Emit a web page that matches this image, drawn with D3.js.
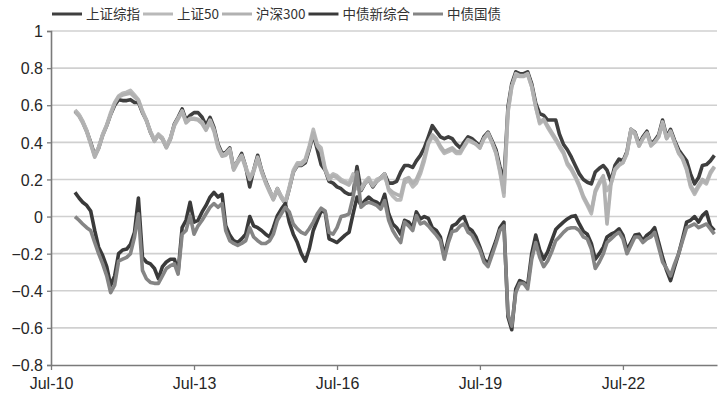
<!DOCTYPE html>
<html><head><meta charset="utf-8">
<script src="https://cdn.jsdelivr.net/npm/d3@7/dist/d3.min.js"></script>
<style>
html,body{margin:0;padding:0;background:#fff;}
svg{display:block;}
</style></head>
<body>
<svg id="chart" width="725" height="399"></svg>
<script>
// ---- data ----
const seriesNames = ["上证综指", "上证50", "沪深300", "中债新综合", "中债国债"];
const firstMonth = "2011-01";   // monthly observations, Jan 2011 .. Jun 2024
const lastMonth = "2024-06";
const yTicks = [-0.8, -0.6, -0.4, -0.2, 0, 0.2, 0.4, 0.6, 0.8, 1];
const xTickLabels = ["Jul-10", "Jul-13", "Jul-16", "Jul-19", "Jul-22"];

const szComposite = [0.57,0.545,0.51,0.46,0.40,0.33,0.37,0.44,0.49,0.55,
0.60,0.63,0.625,0.625,0.63,0.615,0.615,0.56,0.52,0.455,
0.41,0.44,0.42,0.375,0.42,0.50,0.535,0.58,0.52,0.545,
0.56,0.56,0.535,0.49,0.535,0.48,0.39,0.34,0.345,0.37,
0.26,0.30,0.34,0.27,0.16,0.25,0.33,0.25,0.19,0.14,
0.095,0.15,0.105,0.07,0.15,0.24,0.275,0.275,0.29,0.36,
0.445,0.36,0.28,0.25,0.19,0.18,0.16,0.15,0.13,0.12,
0.12,0.27,0.14,0.18,0.20,0.16,0.19,0.21,0.23,0.18,
0.18,0.19,0.24,0.275,0.275,0.265,0.30,0.33,0.37,0.43,
0.49,0.46,0.43,0.42,0.43,0.42,0.39,0.37,0.40,0.43,
0.42,0.40,0.38,0.43,0.455,0.41,0.36,0.27,0.19,0.59,
0.715,0.78,0.77,0.77,0.78,0.715,0.61,0.555,0.545,0.52,
0.52,0.52,0.445,0.39,0.36,0.32,0.275,0.23,0.20,0.185,
0.176,0.24,0.26,0.275,0.25,0.19,0.275,0.31,0.30,0.35,
0.47,0.455,0.39,0.43,0.46,0.39,0.41,0.44,0.52,0.43,
0.47,0.41,0.36,0.33,0.30,0.23,0.176,0.21,0.275,0.28,
0.30,0.33];

const sz50 = [0.575,0.55,0.515,0.465,0.395,0.325,0.375,0.445,0.495,0.56,
0.615,0.65,0.665,0.67,0.68,0.655,0.63,0.57,0.52,0.46,
0.415,0.445,0.425,0.38,0.425,0.495,0.53,0.57,0.51,0.53,
0.53,0.525,0.51,0.47,0.52,0.47,0.38,0.33,0.34,0.365,
0.255,0.30,0.33,0.27,0.21,0.25,0.32,0.245,0.185,0.14,
0.10,0.15,0.11,0.08,0.16,0.25,0.29,0.29,0.31,0.38,
0.47,0.39,0.37,0.26,0.21,0.23,0.22,0.20,0.19,0.18,
0.23,0.16,0.15,0.19,0.21,0.17,0.20,0.21,0.23,0.14,
0.11,0.09,0.09,0.18,0.195,0.16,0.18,0.23,0.30,0.39,
0.43,0.41,0.37,0.34,0.35,0.36,0.34,0.34,0.375,0.41,
0.40,0.39,0.37,0.42,0.45,0.40,0.34,0.24,0.11,0.56,
0.70,0.77,0.76,0.76,0.77,0.70,0.59,0.50,0.52,0.48,
0.445,0.41,0.375,0.34,0.28,0.25,0.21,0.16,0.10,0.06,
0.015,0.13,0.175,0.21,0.14,0.176,0.25,0.275,0.29,0.34,
0.47,0.45,0.38,0.42,0.45,0.38,0.40,0.43,0.51,0.42,
0.46,0.40,0.34,0.31,0.25,0.16,0.12,0.16,0.19,0.176,
0.23,0.265];

const hs300 = [0.565,0.54,0.505,0.455,0.39,0.32,0.365,0.435,0.49,0.55,
0.61,0.645,0.655,0.66,0.665,0.645,0.625,0.565,0.515,0.455,
0.405,0.44,0.415,0.37,0.415,0.49,0.525,0.565,0.505,0.525,
0.525,0.52,0.50,0.465,0.51,0.46,0.37,0.325,0.33,0.355,
0.25,0.29,0.325,0.26,0.20,0.24,0.31,0.24,0.18,0.13,
0.09,0.14,0.10,0.07,0.15,0.24,0.28,0.28,0.30,0.37,
0.45,0.38,0.35,0.25,0.20,0.22,0.21,0.19,0.18,0.17,
0.21,0.15,0.145,0.18,0.20,0.165,0.19,0.205,0.22,0.15,
0.13,0.12,0.11,0.20,0.21,0.18,0.20,0.25,0.32,0.40,
0.44,0.42,0.38,0.35,0.36,0.37,0.35,0.35,0.38,0.415,
0.405,0.39,0.37,0.42,0.445,0.40,0.345,0.25,0.13,0.57,
0.70,0.76,0.755,0.755,0.765,0.70,0.59,0.51,0.525,0.49,
0.455,0.42,0.385,0.35,0.29,0.26,0.22,0.17,0.11,0.07,
0.03,0.14,0.185,0.22,-0.04,0.18,0.255,0.28,0.29,0.34,
0.46,0.445,0.38,0.42,0.45,0.385,0.40,0.43,0.50,0.42,
0.455,0.40,0.345,0.315,0.26,0.17,0.13,0.17,0.20,0.185,
0.24,0.27];

const cbNewComposite = [0.13,0.10,0.077,0.06,0.03,-0.075,-0.165,-0.21,-0.27,-0.37,
-0.32,-0.20,-0.18,-0.175,-0.15,-0.085,0.10,-0.22,-0.245,-0.255,
-0.28,-0.335,-0.27,-0.245,-0.23,-0.23,-0.30,-0.06,-0.02,0.077,
-0.03,-0.02,0.025,0.06,0.105,0.13,0.105,0.12,-0.05,-0.10,
-0.13,-0.14,-0.12,-0.095,0.0,-0.05,-0.06,-0.075,-0.095,-0.11,
-0.06,0.005,0.04,0.07,-0.03,-0.095,-0.14,-0.20,-0.24,-0.175,
-0.075,-0.02,0.03,0.025,-0.12,-0.13,-0.14,-0.12,-0.10,-0.085,
0.015,0.105,0.06,0.086,0.105,0.086,0.077,0.06,0.12,0.015,
-0.04,-0.06,-0.095,-0.02,-0.03,-0.06,0.025,-0.013,0.0,-0.01,
-0.06,-0.075,-0.11,-0.21,-0.12,-0.05,-0.04,-0.013,0.0,-0.06,
-0.075,-0.11,-0.165,-0.23,-0.255,-0.19,-0.13,-0.06,-0.03,-0.54,
-0.61,-0.39,-0.345,-0.355,-0.37,-0.20,-0.10,-0.18,-0.23,-0.19,
-0.13,-0.07,-0.05,-0.03,-0.013,0.0,0.005,-0.04,-0.08,-0.095,
-0.145,-0.23,-0.20,-0.165,-0.11,-0.095,-0.085,-0.066,-0.10,-0.18,
-0.14,-0.10,-0.095,-0.13,-0.10,-0.085,-0.06,-0.14,-0.22,-0.29,
-0.345,-0.27,-0.20,-0.12,-0.03,-0.02,0.0,-0.03,0.005,0.025,
-0.05,-0.075];

const cbTreasury = [0.0,-0.02,-0.04,-0.06,-0.075,-0.14,-0.20,-0.255,-0.32,-0.41,
-0.37,-0.24,-0.23,-0.22,-0.20,-0.11,0.015,-0.29,-0.335,-0.355,
-0.36,-0.36,-0.32,-0.28,-0.265,-0.255,-0.31,-0.095,-0.075,0.005,
-0.095,-0.05,-0.02,0.015,0.05,0.07,0.05,0.07,-0.075,-0.13,
-0.145,-0.155,-0.145,-0.13,-0.06,-0.11,-0.13,-0.145,-0.145,-0.13,
-0.095,-0.02,0.015,0.05,0.025,-0.04,-0.066,-0.085,-0.095,-0.066,
-0.03,0.015,0.045,0.03,-0.085,-0.095,-0.06,0.0,0.005,0.015,
0.105,0.24,0.05,0.07,0.077,0.07,0.06,0.04,0.086,-0.02,
-0.075,-0.11,-0.14,-0.03,-0.05,-0.075,0.005,-0.04,-0.03,-0.05,
-0.075,-0.10,-0.13,-0.23,-0.14,-0.08,-0.075,-0.05,-0.04,-0.085,
-0.10,-0.14,-0.18,-0.245,-0.27,-0.21,-0.145,-0.075,-0.05,-0.525,
-0.59,-0.41,-0.36,-0.36,-0.39,-0.23,-0.14,-0.22,-0.27,-0.24,
-0.19,-0.13,-0.11,-0.085,-0.066,-0.06,-0.06,-0.075,-0.11,-0.12,
-0.175,-0.28,-0.245,-0.20,-0.14,-0.12,-0.10,-0.085,-0.12,-0.20,
-0.155,-0.11,-0.11,-0.14,-0.12,-0.11,-0.085,-0.165,-0.245,-0.28,
-0.32,-0.255,-0.20,-0.13,-0.06,-0.05,-0.04,-0.06,-0.05,-0.04,
-0.066,-0.095];

// ---- styles ----
const colors = ["#3f3f3f", "#b9b9b9", "#b1b1b1", "#3a3a3a", "#858585"];
const values = [szComposite, sz50, hs300, cbNewComposite, cbTreasury];

const parseMonth = d3.timeParse("%Y-%m");
const fmtTick = d3.timeFormat("%b-%y");
const months = d3.timeMonth.range(parseMonth(firstMonth), d3.timeMonth.offset(parseMonth(lastMonth), 1));

const svg = d3.select("#chart");
const margin = {left: 51, right: 8, top: 31, bottom: 34};
const W = 725, H = 399;

const x = d3.scaleTime()
  .domain([new Date(2010, 6, 1), new Date(2024, 5, 21)])
  .range([margin.left, W - margin.right]);
const y = d3.scaleLinear().domain([-0.8, 1]).range([H - margin.bottom, margin.top]);

// gridlines
svg.append("g").selectAll("line").data(yTicks.filter(v => v > -0.8)).join("line")
  .attr("x1", margin.left).attr("x2", W - margin.right)
  .attr("y1", d => y(d)).attr("y2", d => y(d))
  .attr("stroke", "#d0d0d0").attr("stroke-width", 1.6);

// y axis
const yAxis = svg.append("g").attr("transform", `translate(${margin.left},0)`)
  .call(d3.axisLeft(y).tickValues(yTicks).tickFormat(d => d3.format("")(+d.toFixed(1))).tickSize(4).tickPadding(4));
// x axis
const xTickDates = xTickLabels.map(s => d3.timeParse("%b-%y")(s));
const xAxis = svg.append("g").attr("transform", `translate(0,${y(-0.8)})`)
  .call(d3.axisBottom(x).tickValues(xTickDates).tickFormat(fmtTick).tickSize(5).tickPadding(8).tickSizeOuter(0));
[yAxis, xAxis].forEach(g => {
  g.select(".domain").attr("stroke", "#7a7a7a").attr("stroke-width", 1.6);
  g.selectAll(".tick line").attr("stroke", "#7a7a7a").attr("stroke-width", 1.3);
  g.selectAll("text").attr("fill", "#262626")
    .style("font-family", "'Liberation Sans', Arial, sans-serif").style("font-size", "16px");
});
yAxis.selectAll(".tick text").attr("dy", "0.36em").attr("textLength", null);

// lines
const line = d3.line().x((d, i) => x(months[i])).y(d => y(d));
svg.append("g").selectAll("path").data(values).join("path")
  .attr("d", d => line(d))
  .attr("fill", "none")
  .attr("stroke", (d, i) => colors[i])
  .attr("stroke-width", 3.6)
  .attr("stroke-linejoin", "round");

// legend
const leg = svg.append("g");
let lx = 52;
seriesNames.forEach((name, i) => {
  leg.append("line").attr("x1", lx).attr("x2", lx + 30).attr("y1", 14).attr("y2", 14)
    .attr("stroke", colors[i]).attr("stroke-width", 3);
  const t = leg.append("text").attr("x", lx + 34).attr("y", 14).attr("dy", "0.36em")
    .attr("fill", "#333")
    .style("font-family", "'Noto Sans CJK SC', sans-serif").style("font-size", "13.5px")
    .text(name);
  lx += 34 + t.node().getComputedTextLength() + 3;
});
</script>
</body></html>
